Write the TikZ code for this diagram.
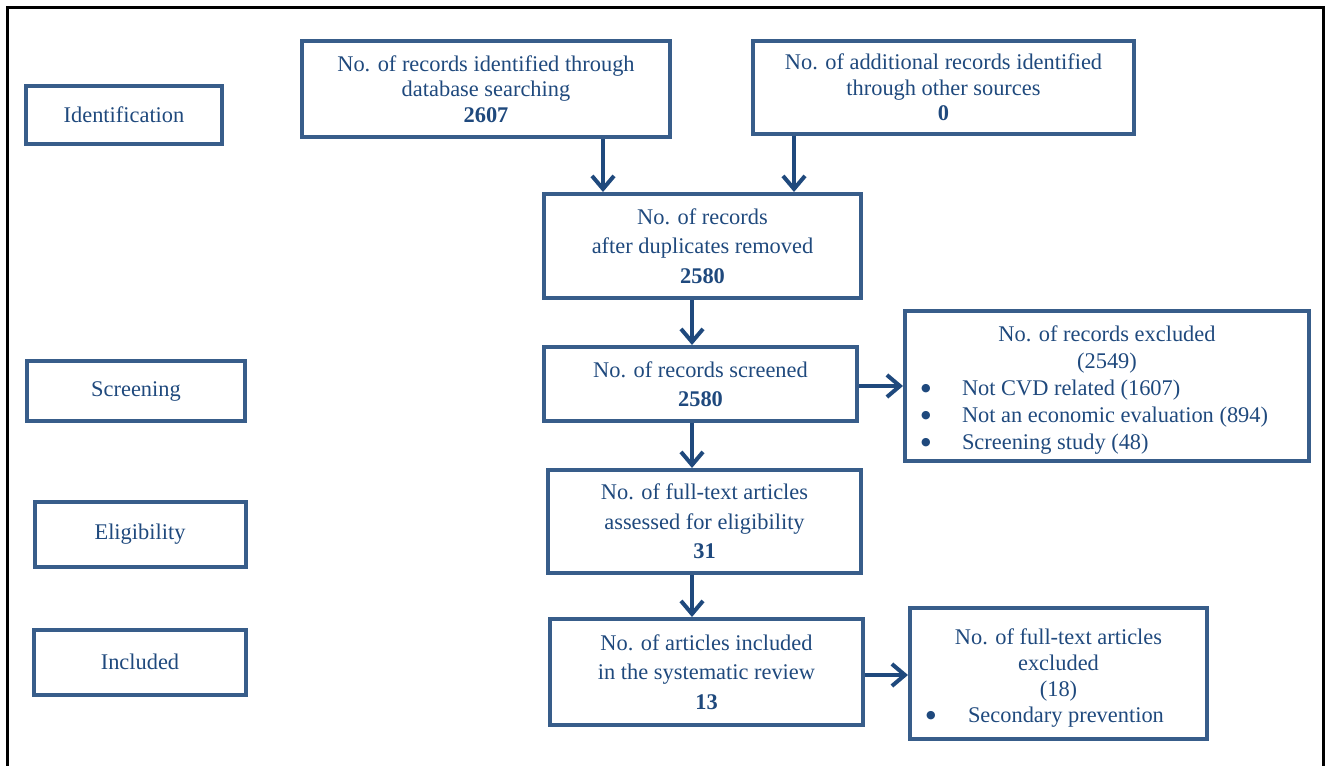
\documentclass[tikz,border=0pt]{standalone}
\usepackage{fontspec}
\setmainfont{Liberation Serif}
\newfontfamily\dotfont{DejaVu Sans}
\usepackage{tikz}
\usetikzlibrary{arrows.meta,positioning,calc}
\definecolor{frameblue}{RGB}{56,93,138}
\definecolor{inkblue}{RGB}{31,73,125}
\tikzset{
    flowbox/.style={draw=frameblue, line width=2pt, text=inkblue, align=center, inner sep=0pt,
        font=\fontsize{11.2}{14.75}\selectfont},
    stagebox/.style={flowbox},
    flowarrow/.style={draw=inkblue, line width=2pt, -{Straight Barb[length=6.5pt,width=11pt]}},
}
\newcommand{\bulletline}[3]{\makebox[#1][l]{\hspace{8pt}\makebox[#2][l]{\raisebox{2pt}{\dotfont\fontsize{5.5}{6}\selectfont ●}}#3}}

\begin{document}
\begin{tikzpicture}[x=0.5pt, y=-0.5pt]
    \useasboundingbox (0,0) rectangle (1329,766);
    \draw[line width=1.5pt] (7,775) -- (7,7) -- (1323,7) -- (1323,775);

    \node[stagebox, minimum width=98pt, minimum height=29pt] (ident) at (124,115) {Identification};
    \node[stagebox, minimum width=109pt, minimum height=30pt] (screen) at (136,391) {Screening};
    \node[stagebox, minimum width=105.5pt, minimum height=32.5pt] (elig) at (140,534) {Eligibility};
    \node[stagebox, minimum width=106pt, minimum height=32.5pt] (incl) at (140,662) {Included};

    \node[flowbox, minimum width=184pt, minimum height=48pt, font=\fontsize{11.2}{12.8}\selectfont] (db) at (486,89) {
        No. of records identified through\\
        database searching\\
        \textbf{2607}
    };
    \node[flowbox, minimum width=190.5pt, minimum height=46.5pt, font=\fontsize{11.2}{12.8}\selectfont] (other) at (943.5,87.5) {
        No. of additional records identified\\
        through other sources\\
        \textbf{0}
    };
    \node[flowbox, minimum width=158.5pt, minimum height=52pt] (dup) at (702.5,246) {
        No. of records\\
        after duplicates removed\\
        \textbf{2580}
    };
    \node[flowbox, minimum width=156.5pt, minimum height=37pt] (scr) at (700.5,384) {
        No. of records screened\\
        \textbf{2580}
    };
    \node[flowbox, minimum width=202pt, minimum height=75pt, font=\fontsize{11.2}{13.5}\selectfont] (excl) at (1107,386) {
        \rule{0pt}{12pt}No. of records excluded\\
        (2549)\\
        \bulletline{202pt}{20.5pt}{Not CVD related (1607)}\\
        \bulletline{202pt}{20.5pt}{Not an economic evaluation (894)}\\
        \bulletline{202pt}{20.5pt}{Screening study (48)}
    };
    \node[flowbox, minimum width=156.5pt, minimum height=51.5pt] (ft) at (704.5,521.5) {
        No. of full-text articles\\
        assessed for eligibility\\
        \textbf{31}
    };
    \node[flowbox, minimum width=156.5pt, minimum height=53pt] (inc) at (706.5,672) {
        No. of articles included\\
        in the systematic review\\
        \textbf{13}
    };
    \node[flowbox, minimum width=148.5pt, minimum height=65.5pt, font=\fontsize{11.2}{13}\selectfont] (ftex) at (1058.5,673.5) {
        \rule{0pt}{12pt}No. of full-text articles\\
        excluded\\
        (18)\\
        \bulletline{148.5pt}{21pt}{Secondary prevention}
    };

    \coordinate (dbdrop) at (603,0);
    \coordinate (otherdrop) at (794,0);
    \coordinate (maindrop) at (692,0);
    \coordinate (exclrow) at (0,386);
    \coordinate (ftexrow) at (0,675);

    \draw[flowarrow] (db.south -| dbdrop) -- (dup.north -| dbdrop);
    \draw[flowarrow] (other.south -| otherdrop) -- (dup.north -| otherdrop);
    \draw[flowarrow] (dup.south -| maindrop) -- (scr.north -| maindrop);
    \draw[flowarrow] (scr.south -| maindrop) -- (ft.north -| maindrop);
    \draw[flowarrow] (ft.south -| maindrop) -- (inc.north -| maindrop);
    \draw[flowarrow] (scr.east |- exclrow) -- (excl.west |- exclrow);
    \draw[flowarrow] (inc.east |- ftexrow) -- (ftex.west |- ftexrow);
\end{tikzpicture}
\end{document}
